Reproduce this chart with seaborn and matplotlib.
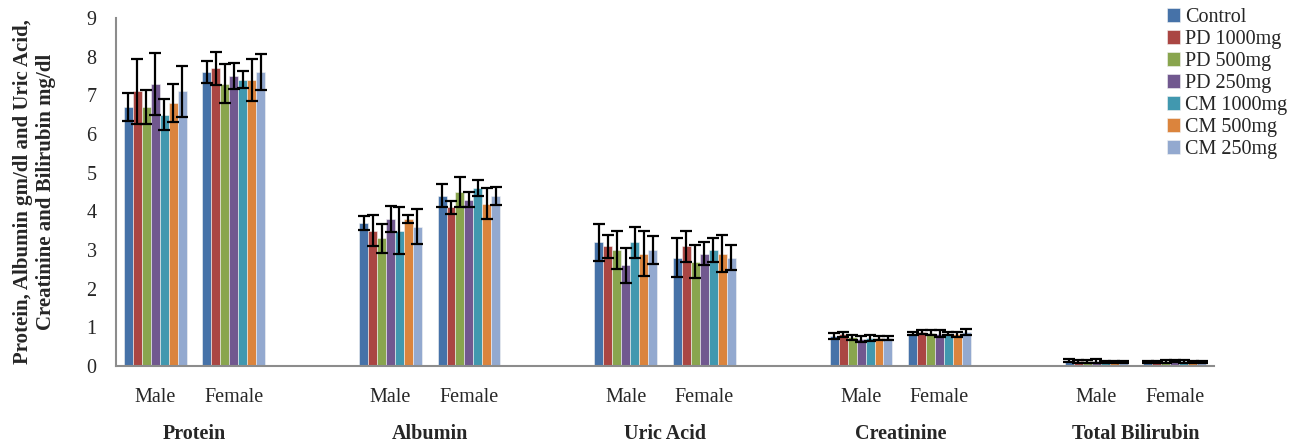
import matplotlib
matplotlib.use("Agg")
import matplotlib.pyplot as plt
import seaborn as sns
import pandas as pd
import numpy as np

groups = ["Control", "PD 1000mg", "PD 500mg", "PD 250mg", "CM 1000mg", "CM 500mg", "CM 250mg"]
parameters = ["Protein", "Albumin", "Uric Acid", "Creatinine", "Total Bilirubin"]
sexes = ["Male", "Female"]

protein_male = [6.7, 7.1, 6.7, 7.3, 6.5, 6.8, 7.1]
protein_male_err = [0.37, 0.83, 0.45, 0.8, 0.4, 0.5, 0.67]
protein_female = [7.6, 7.7, 7.3, 7.5, 7.4, 7.4, 7.6]
protein_female_err = [0.28, 0.43, 0.5, 0.34, 0.22, 0.54, 0.46]

albumin_male = [3.7, 3.5, 3.3, 3.8, 3.5, 3.8, 3.6]
albumin_male_err = [0.17, 0.4, 0.37, 0.33, 0.6, 0.1, 0.45]
albumin_female = [4.4, 4.1, 4.5, 4.3, 4.6, 4.2, 4.4]
albumin_female_err = [0.3, 0.17, 0.39, 0.2, 0.2, 0.4, 0.24]

uric_male = [3.2, 3.1, 3.0, 2.6, 3.2, 2.9, 3.0]
uric_male_err = [0.48, 0.3, 0.5, 0.45, 0.4, 0.58, 0.35]
uric_female = [2.8, 3.1, 2.7, 2.9, 3.0, 2.9, 2.8]
uric_female_err = [0.5, 0.4, 0.42, 0.3, 0.3, 0.48, 0.32]

creat_male = [0.78, 0.82, 0.74, 0.7, 0.72, 0.72, 0.72]
creat_male_err = [0.08, 0.07, 0.06, 0.07, 0.08, 0.05, 0.05]
creat_female = [0.84, 0.88, 0.86, 0.84, 0.84, 0.82, 0.88]
creat_female_err = [0.05, 0.05, 0.07, 0.08, 0.05, 0.06, 0.08]

bili_male = [0.14, 0.12, 0.12, 0.13, 0.11, 0.10, 0.11]
bili_male_err = [0.03, 0.03, 0.03, 0.04, 0.03, 0.03, 0.03]
bili_female = [0.11, 0.10, 0.12, 0.13, 0.12, 0.10, 0.10]
bili_female_err = [0.03, 0.03, 0.03, 0.03, 0.03, 0.03, 0.03]

colors = ["#4672A8", "#AA4643", "#89A54E", "#71588F", "#4198AF", "#DB843D", "#93A9CF"]

series = {
    ("Protein", "Male"): (protein_male, protein_male_err),
    ("Protein", "Female"): (protein_female, protein_female_err),
    ("Albumin", "Male"): (albumin_male, albumin_male_err),
    ("Albumin", "Female"): (albumin_female, albumin_female_err),
    ("Uric Acid", "Male"): (uric_male, uric_male_err),
    ("Uric Acid", "Female"): (uric_female, uric_female_err),
    ("Creatinine", "Male"): (creat_male, creat_male_err),
    ("Creatinine", "Female"): (creat_female, creat_female_err),
    ("Total Bilirubin", "Male"): (bili_male, bili_male_err),
    ("Total Bilirubin", "Female"): (bili_female, bili_female_err),
}

# slot order with empty gap slots between parameters
order = []
tick_text = []
for i, p in enumerate(parameters):
    for s in sexes:
        order.append(f"{p}|{s}")
        tick_text.append(s)
    if i < len(parameters) - 1:
        order.append(f"gap{i}")
        tick_text.append("")

rows = []
for (p, s), (vals, errs) in series.items():
    for g, v, e in zip(groups, vals, errs):
        rows.append({"slot": f"{p}|{s}", "group": g, "value": v, "err": e})
df = pd.DataFrame(rows)

sns.set_style("white")
plt.rcParams["font.family"] = ["Liberation Serif", "DejaVu Serif"]

fig = plt.figure(figsize=(13.02, 4.43), dpi=100)
ax = fig.add_axes([116 / 1302, 1 - 366 / 443, (1214 - 116) / 1302, (366 - 18) / 443])

sns.barplot(data=df, x="slot", y="value", hue="group", order=order, hue_order=groups,
            palette=colors, errorbar=None, width=0.8, ax=ax,
            edgecolor="#f4f4f4", linewidth=0.4, saturation=1)

# error bars placed from the bar patches
for cont, g in zip(ax.containers, groups):
    sub = df[df["group"] == g].set_index("slot")
    for bar in cont:
        cx = bar.get_x() + bar.get_width() / 2
        h = bar.get_height()
        if np.isnan(h) or h == 0:
            continue
        idx = int(round(cx))
        slot = order[idx]
        if slot not in sub.index:
            continue
        e = sub.loc[slot, "err"]
        ax.errorbar(cx, h, yerr=e, fmt="none", ecolor="black", elinewidth=1.6,
                    capsize=4.5, capthick=1.6, zorder=5)

ax.set_xlim(-0.5, len(order) - 0.5)
ax.set_ylim(0, 9)
ax.set_yticks(range(0, 10))
ax.set_yticklabels([str(i) for i in range(0, 10)], fontsize=14.5)
ax.set_xticks(range(len(order)))
ax.set_xticklabels(tick_text, fontsize=14.5)
ax.set_xticks(np.arange(-0.5, len(order)), minor=True)
ax.tick_params(axis="x", which="major", length=0, pad=16)
ax.tick_params(axis="x", which="minor", length=6, width=1.5, color="#8c8c8c", direction="out")
ax.tick_params(axis="y", length=6, width=1.5, color="#8c8c8c", direction="out", pad=8)
ax.set_xlabel("")
ax.set_ylabel("Protein, Albumin gm/dl and Uric Acid,\nCreatinine and Bilirubin mg/dl",
              fontsize=15, fontweight="bold", labelpad=22)
for side in ["top", "right"]:
    ax.spines[side].set_visible(False)
for side in ["left", "bottom"]:
    ax.spines[side].set_color("#8c8c8c")
    ax.spines[side].set_linewidth(1.5)

# parameter labels
base = 0
for i, p in enumerate(parameters):
    center = base + 0.5
    ax.text(center, -0.196, p, transform=ax.get_xaxis_transform(), ha="center", va="center",
            fontsize=14.5, fontweight="bold")
    base += 3

ax.legend(loc="upper left", bbox_to_anchor=(1167 / 1302, 1 - 8 / 443),
          bbox_transform=fig.transFigure, frameon=False, fontsize=14.5,
          handlelength=0.65, handleheight=0.65, handletextpad=0.25, labelspacing=0.15,
          borderaxespad=0, borderpad=0)

fig.savefig("out.png", dpi=100)
